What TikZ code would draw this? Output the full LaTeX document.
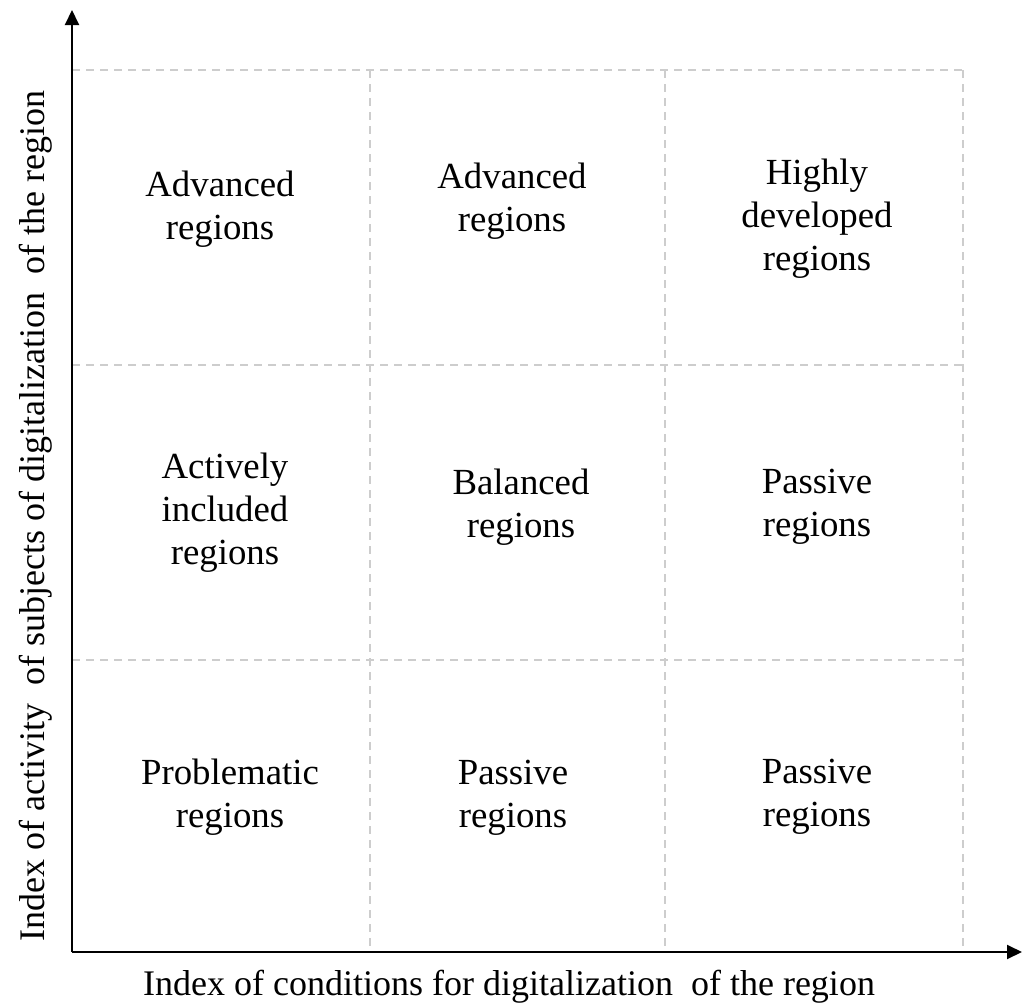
\documentclass[tikz,border=0pt]{standalone}
\usepackage{fontspec}
\setmainfont{Liberation Serif}
\usetikzlibrary{arrows.meta}
\definecolor{gridgray}{RGB}{205,205,205}
\tikzset{
    axis/.style={line width=1pt, -{Triangle[length=7.5pt,width=7pt]}},
    gridline/.style={draw=gridgray, line width=0.55pt, dash pattern=on 4pt off 3pt},
    cell/.style={align=center, font=\fontsize{18.4}{21.5}\selectfont, inner sep=0pt},
    axislabel/.style={font=\fontsize{18}{21}\selectfont, inner sep=0pt},
}
\begin{document}
\begin{tikzpicture}[x=0.5pt, y=-0.5pt]
    \useasboundingbox (0,0) rectangle (1025,1007);

    % dashed grid
    \foreach \gx in {370,665,963}
        \draw[gridline] (\gx,70) -- (\gx,952);
    \foreach \gy in {70,365,660}
        \draw[gridline] (72,\gy) -- (963,\gy);

    % axes
    \coordinate (origin) at (72,952);
    \coordinate (xtip) at (1022,952);
    \coordinate (ytip) at (72,10);
    \draw[axis] (origin) -- (xtip);
    \draw[axis] (origin) -- (ytip);

    \node[axislabel] (xlabel) at (509,987) {Index of conditions for digitalization\ \ of the region};
    \node[axislabel, rotate=90] (ylabel) at (36,516) {Index of activity\ \ of subjects of digitalization\ \ of the region};

    % top row
    \node[cell] (advA) at (220,209) {Advanced\\regions};
    \node[cell] (advB) at (512,201) {Advanced\\regions};
    \node[cell] (high) at (817,219) {Highly\\developed\\regions};

    % middle row
    \node[cell] (activ) at (225,513) {Actively\\included\\regions};
    \node[cell] (balan) at (521,507) {Balanced\\regions};
    \node[cell] (passA) at (817,507) {Passive\\regions};

    % bottom row
    \node[cell] (probl) at (230,797) {Problematic\\regions};
    \node[cell] (passB) at (513,798) {Passive\\regions};
    \node[cell] (passC) at (817,797) {Passive\\regions};
\end{tikzpicture}
\end{document}
